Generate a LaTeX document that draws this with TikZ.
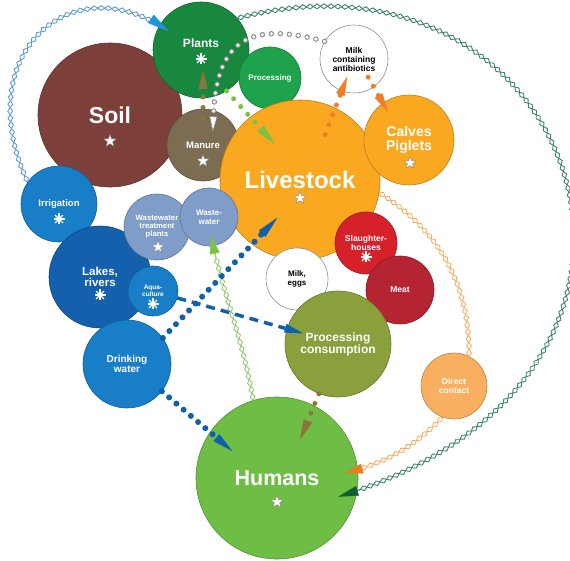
\documentclass[tikz,border=0pt]{standalone}
\usepackage{fontspec}
\setmainfont{Liberation Sans}
\usetikzlibrary{shapes.geometric,arrows.meta,decorations.pathmorphing,decorations.markings,calc}

\definecolor{soilc}{RGB}{125,63,58}
\definecolor{plantc}{RGB}{24,136,62}
\definecolor{procc}{RGB}{30,162,76}
\definecolor{manurec}{RGB}{124,108,82}
\definecolor{livec}{RGB}{249,168,32}
\definecolor{irrigc}{RGB}{24,126,200}
\definecolor{lakec}{RGB}{20,96,172}
\definecolor{wastec}{RGB}{128,156,200}
\definecolor{slaughc}{RGB}{214,32,42}
\definecolor{meatc}{RGB}{180,36,50}
\definecolor{consc}{RGB}{138,160,60}
\definecolor{directc}{RGB}{248,176,96}
\definecolor{humanc}{RGB}{110,190,70}
\definecolor{bluech}{RGB}{96,156,210}
\definecolor{bluetip}{RGB}{30,150,220}
\definecolor{dgreench}{RGB}{62,132,104}
\definecolor{dgreentip}{RGB}{20,92,50}
\definecolor{lgreench}{RGB}{150,200,112}
\definecolor{lgreentip}{RGB}{126,194,66}
\definecolor{orangech}{RGB}{245,176,100}
\definecolor{orangetip}{RGB}{240,122,30}
\definecolor{dotblue}{RGB}{16,96,172}
\definecolor{dotbrown}{RGB}{140,116,62}
\definecolor{dotgreen}{RGB}{126,194,66}
\definecolor{dotorange}{RGB}{240,126,36}

\newcommand{\fs}[2]{\fontsize{#1}{#2}\selectfont\bfseries\lineskiplimit=-20pt}

\tikzset{
  ball/.style 2 args={circle, draw=#1!75!black, fill=#1, line width=0.6pt, inner sep=0pt,
    minimum size=#2, align=center, text=white},
  whiteball/.style={circle, draw=black!45, fill=white, line width=0.6pt, inner sep=0pt,
    minimum size=#1, align=center, text=black},
  whitestar/.style={star, star points=5, star point ratio=2.4, fill=white, draw=black!50,
    line width=0.4pt, inner sep=0pt, minimum size=13pt},
  flake/.pic={
    \foreach \a in {0,45,90,135} \draw[white, line width=1.4pt] (\a:5.5pt) -- (\a+180:5.5pt);
    \fill[white] (0,0) circle (2pt);
  },
  diamondline/.style 2 args={
    preaction={draw=#1, line width=0.9pt, decorate, decoration={zigzag, segment length=14pt,
      amplitude=2.4pt, post=moveto, post length=#2}},
    preaction={draw=#1, line width=0.9pt, decorate, decoration={zigzag, segment length=14pt,
      amplitude=2.4pt, mirror, post=moveto, post length=#2}}
  },
  tipend/.style 2 args={postaction={decorate, decoration={markings,
    mark=at position 0.9999 with {\arrow[#1]{Triangle[length=#2, width=10pt]}}}}},
  dotline/.style={line width=5pt, line cap=round, dash pattern=on 0pt off 10.5pt},
  ringline/.style={draw=black!45, line width=5.5pt, line cap=round, dash pattern=on 0pt off 9pt,
    postaction={draw=white, line width=3.6pt}},
  arrowhead/.style={-{Triangle[length=#1, width=9pt, line width=0.1pt]}}
}

\begin{document}
\begin{tikzpicture}[x=1pt, y=1pt]
\useasboundingbox (0,0) rectangle (570,560);

% circles
\node[ball={soilc}{144pt}, font=\fs{23}{26}] (soil) at (110,445) {Soil};
\node[ball={plantc}{96pt}, font=\fs{12}{14}, text depth=14pt] (plants) at (201,510) {Plants};
\node[ball={procc}{62pt}, font=\fs{8}{9}] (proc) at (270,482) {Processing};
\node[ball={manurec}{72pt}, font=\fs{9.5}{11}] (manure) at (203,415) {Manure};
\node[ball={livec}{160pt}, font=\fs{24}{26}] (livestock) at (300,380) {Livestock};
\node[ball={livec}{90pt}, font=\fs{14}{14}] (calves) at (409,420) {Calves\\Piglets};
\node[whiteball=68pt, font=\fs{8.5}{9}] (milkab) at (354,501) {Milk\\containing\\antibiotics};
\node[ball={irrigc}{76pt}, font=\fs{9.5}{11}] (irrig) at (59,356) {Irrigation};
\node[ball={lakec}{102pt}, font=\fs{11.5}{11.5}] (lakes) at (100,283) {Lakes,\\rivers};
\node[ball={irrigc}{50pt}, font=\fs{6.5}{7}] (aqua) at (153,269) {Aqua-\\culture};
\node[ball={irrigc}{88pt}, font=\fs{10}{10}] (drink) at (127,196) {Drinking\\water};
\node[ball={wastec}{66pt}, font=\fs{7.7}{8}] (wwtp) at (157,333) {Wastewater\\treatment\\plants};
\node[ball={wastec}{58pt}, font=\fs{8}{9}] (wastew) at (209,343) {Waste-\\water};
\node[whiteball=62pt, font=\fs{8}{8.5}] (milkegg) at (297,281) {Milk,\\eggs};
\node[ball={slaughc}{62pt}, font=\fs{8.5}{8.5}] (slaugh) at (366,317) {Slaughter-\\houses};
\node[ball={meatc}{68pt}, font=\fs{8.5}{10}] (meat) at (400,270) {Meat};
\node[ball={consc}{106pt}, font=\fs{12}{12}] (consume) at (338,216) {Processing\\consumption};
\node[ball={directc}{66pt}, font=\fs{8.5}{8.5}] (direct) at (454,174) {Direct\\contact};
\node[ball={humanc}{162pt}, font=\fs{21.5}{24}] (humans) at (277,82) {Humans};

% stars and flakes
\node[whitestar] (soil-s) at ([yshift=-26pt]soil.center) {};
\node[whitestar] (manure-s) at ([yshift=-16pt]manure.center) {};
\node[whitestar] (livestock-s) at ([yshift=-18pt]livestock.center) {};
\node[whitestar] (calves-s) at ([xshift=1pt,yshift=-23pt]calves.center) {};
\node[whitestar] (wwtp-s) at ([xshift=1pt,yshift=-20pt]wwtp.center) {};
\node[whitestar] (humans-s) at ([yshift=-24pt]humans.center) {};
\pic at ([yshift=-9pt]plants.center) {flake};
\pic at ([yshift=-15pt]irrig.center) {flake};
\pic at ([yshift=-18pt]lakes.center) {flake};
\pic at ([yshift=-13pt]aqua.center) {flake};
\pic at ([yshift=-14pt]slaugh.center) {flake};

% chains
\path[diamondline={bluech}{20pt}, tipend={bluetip}{22pt}]
  (irrig.145) .. controls +(115:140) and +(145:120) .. ($(plants)+(150:37)$);
\path[diamondline={dgreench}{18pt}, tipend={dgreentip}{20pt}]
  (plants.41) .. controls +(15:350) and +(17:420) .. ($(humans)+(-17:64)$);
\path[diamondline={lgreench}{16pt}, tipend={lgreentip}{18pt}]
  (humans.107) to[out=100, in=-78] ($(wastew)+(-84:19)$);
\path[diamondline={orangech}{0pt}]
  (livestock.-9) to[out=-33, in=90] (direct.63);
\path[diamondline={orangech}{16pt}, tipend={orangetip}{18pt}]
  (direct.250) to[out=225, in=15] ($(humans)+(4:68)$);

% dotted and dashed
\draw[ringline, -{Triangle[length=16pt, width=8pt, fill=white, color=black!50, line width=0.6pt]}]
  (milkab.149) .. controls +(165:70) and +(88:100) .. ($(manure)+(52:16)$);
\draw[dotline, dotbrown, arrowhead=19pt] ($(manure)+(90:27)$) -- ($(plants)+(-84:20)$);
\draw[dotline, dotgreen, arrowhead=22pt] (plants.-58) -- ($(livestock)+(125:43)$);
\draw[dotline, dotorange, arrowhead=19pt] ($(livestock)+(61:52)$) -- ($(milkab)+(-111:19)$);
\draw[dotline, dotorange, arrowhead=19pt] ($(milkab)+(-52:23)$) -- ($(calves)+(127:35)$);
\draw[dotline, dotblue, line width=6pt, dash pattern=on 0pt off 9.5pt, arrowhead=22pt]
  (drink.36) -- ($(livestock)+(239:44)$);
\draw[dotline, dotblue, line width=6pt, dash pattern=on 0pt off 9.5pt, arrowhead=21pt]
  (drink.-38) -- ($(humans)+(149:52)$);
\draw[dotblue, line width=3.5pt, dash pattern=on 9pt off 6pt, arrowhead=18pt]
  (aqua.-16) -- ($(consume)+(163:37)$);
\draw[dotline, dotbrown, arrowhead=20pt] (consume.249) -- ($(humans)+(59:45)$);
\end{tikzpicture}
\end{document}
